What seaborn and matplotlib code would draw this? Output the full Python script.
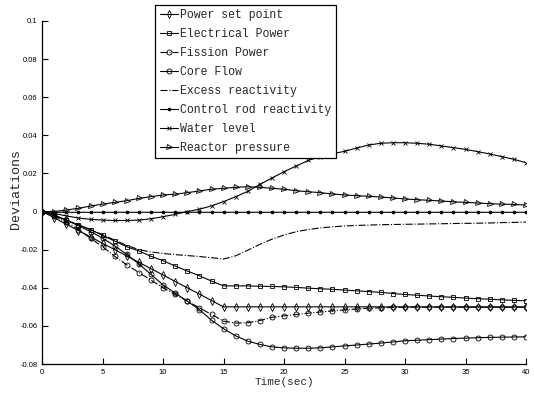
import matplotlib
matplotlib.use("Agg")
import matplotlib.pyplot as plt
import numpy as np
import seaborn as sns

time = np.arange(0, 41)

power_set_point = [0, -0.0033, -0.0067, -0.01, -0.0133, -0.0167, -0.02, -0.0233, -0.0267, -0.03,
                   -0.0333, -0.0367, -0.04, -0.0433, -0.0467, -0.05] + [-0.05] * 25

electrical_power = [0, -0.002, -0.0045, -0.007, -0.0095, -0.0125, -0.0155, -0.0185, -0.0207, -0.0235,
                    -0.0258, -0.0286, -0.0312, -0.0337, -0.0365, -0.039, -0.039, -0.039, -0.0392, -0.0393,
                    -0.0395, -0.0398, -0.0402, -0.0405, -0.0408, -0.0412, -0.0416, -0.042, -0.0424, -0.043,
                    -0.0435, -0.0439, -0.0443, -0.0447, -0.045, -0.0454, -0.0457, -0.046, -0.0463, -0.0466,
                    -0.0468]

fission_power = [0, -0.0025, -0.0055, -0.0095, -0.014, -0.0185, -0.0235, -0.028, -0.032, -0.036,
                 -0.04, -0.0435, -0.047, -0.0505, -0.054, -0.0575, -0.0585, -0.0583, -0.0572, -0.0555,
                 -0.0547, -0.054, -0.0533, -0.0527, -0.0521, -0.0516, -0.0511, -0.0507, -0.0505, -0.0503,
                 -0.0502, -0.0502, -0.0502, -0.0502, -0.0502, -0.0502, -0.0502, -0.0502, -0.0502, -0.0502,
                 -0.0502]

core_flow = [0, -0.002, -0.0045, -0.0075, -0.0105, -0.014, -0.018, -0.0225, -0.0275, -0.033,
             -0.0385, -0.0428, -0.047, -0.0515, -0.057, -0.0615, -0.0652, -0.068, -0.0697, -0.071,
             -0.0715, -0.0717, -0.0717, -0.0715, -0.071, -0.0705, -0.07, -0.0695, -0.069, -0.0684,
             -0.0678, -0.0675, -0.0672, -0.0669, -0.0666, -0.0664, -0.0662, -0.066, -0.0659, -0.0658,
             -0.0657]

excess_reactivity = [0, -0.002, -0.0045, -0.007, -0.0095, -0.0122, -0.015, -0.0178, -0.02, -0.0212,
                     -0.022, -0.0226, -0.0231, -0.0236, -0.0242, -0.0249, -0.0232, -0.0203, -0.0172, -0.0145,
                     -0.0123, -0.0106, -0.0094, -0.0086, -0.008, -0.0076, -0.0073, -0.0071, -0.0069, -0.0068,
                     -0.0067, -0.0066, -0.0065, -0.0064, -0.0063, -0.0062, -0.0061, -0.006, -0.0058, -0.0057,
                     -0.0055]

control_rod_reactivity = [0] + [-0.0004] * 40

water_level = [0, -0.001, -0.0023, -0.0034, -0.0041, -0.0045, -0.0047, -0.0047, -0.0045, -0.0038,
               -0.0027, -0.0015, 0.0, 0.0012, 0.003, 0.0052, 0.0078, 0.0106, 0.0142, 0.0176,
               0.0209, 0.0239, 0.0268, 0.0288, 0.0303, 0.0316, 0.0333, 0.0349, 0.0358, 0.0361,
               0.0361, 0.0358, 0.0353, 0.0344, 0.0335, 0.0326, 0.0314, 0.0302, 0.0288, 0.0274,
               0.0256]

reactor_pressure = [0, 0.0, 0.0008, 0.0017, 0.0029, 0.0039, 0.0048, 0.0057, 0.0069, 0.0078,
                    0.0087, 0.0091, 0.0099, 0.0108, 0.0117, 0.0122, 0.0127, 0.013, 0.0127, 0.0122,
                    0.0117, 0.0109, 0.0104, 0.0099, 0.0092, 0.0087, 0.0083, 0.008, 0.0076, 0.0071,
                    0.0066, 0.0062, 0.0059, 0.0055, 0.0051, 0.0048, 0.0045, 0.0041, 0.0039, 0.0037,
                    0.0034]

series = [
    ("Power set point", power_set_point, "d", "-"),
    ("Electrical Power", electrical_power, "s", "-"),
    ("Fission Power", fission_power, "o", "-."),
    ("Core Flow", core_flow, "o", "-"),
    ("Excess reactivity", excess_reactivity, None, "-."),
    ("Control rod reactivity", control_rod_reactivity, ".", "-"),
    ("Water level", water_level, "x", "-"),
    ("Reactor pressure", reactor_pressure, ">", "-"),
]

sns.set_style("ticks")
plt.rcParams["font.family"] = ["Liberation Sans", "DejaVu Sans"]
plt.rcParams["axes.unicode_minus"] = False

fig = plt.figure(figsize=(5.34, 3.94), dpi=100)
ax = fig.add_axes([0.079, 0.076, 0.906, 0.871])

# small hollow markers, thin lines like the original matlab export
for name, vals, mk, ls in series:
    ms = {".": 4, "x": 3, "s": 3.2}.get(mk, 3.6)
    sns.lineplot(x=time, y=vals, ax=ax, label=name, color="black", linewidth=0.8,
                 linestyle=ls, marker=mk, markersize=ms,
                 markerfacecolor="black" if mk == "." else "none",
                 markeredgecolor="black", markeredgewidth=0.6)

ax.set_xlim(0, 40)
ax.set_ylim(-0.08, 0.1)
ax.set_xticks(np.arange(0, 41, 5))
ax.set_yticks([-0.08, -0.06, -0.04, -0.02, 0, 0.02, 0.04, 0.06, 0.08, 0.1])
ax.set_yticklabels(["-0.08", "-0.06", "-0.04", "-0.02", "0", "0.02", "0.04", "0.06", "0.08", "0.1"])
ax.tick_params(direction="in", length=4, width=0.8, labelsize=5.5, colors="black")
for side in ["top", "right"]:
    ax.spines[side].set_visible(False)
for side in ["left", "bottom"]:
    ax.spines[side].set_linewidth(0.9)
    ax.spines[side].set_color("black")

mono = "Liberation Mono"
ax.set_xlabel("Time(sec)", family=mono, fontsize=7.9, labelpad=1)
ax.set_ylabel("Deviations", family=mono, fontsize=9.6)
ax.yaxis.set_label_coords(-0.041, 0.51)

leg = ax.legend(loc="upper left", bbox_to_anchor=(0.233, 1.047), borderaxespad=0,
                prop={"family": mono, "size": 8.3}, frameon=True, fancybox=False,
                handlelength=1.6, handletextpad=0.2, labelspacing=0.6, borderpad=0.4)
leg.get_frame().set_edgecolor("black")
leg.get_frame().set_linewidth(0.9)
leg.get_frame().set_alpha(1)

fig.savefig("out.png", dpi=100)
